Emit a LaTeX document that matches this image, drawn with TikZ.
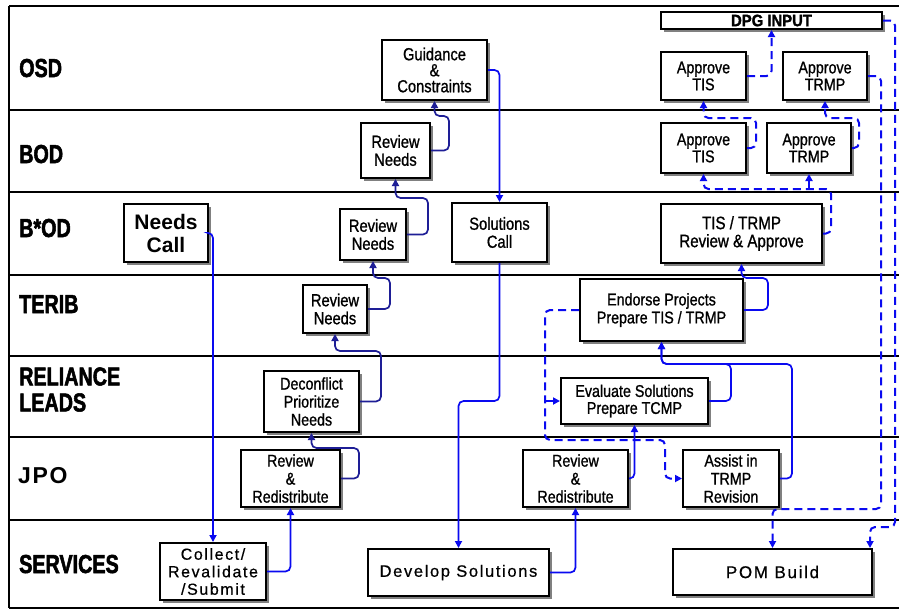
\documentclass[tikz,border=0pt]{standalone}
\usepackage{fontspec}
\setmainfont{Liberation Sans}
\newfontfamily\boxfont[FakeStretch=0.84,FakeBold=1]{Liberation Sans}
\newfontfamily\lanefont[FakeStretch=0.76,FakeBold=2]{Liberation Sans}
\newfontfamily\dpgfont[FakeStretch=0.9,FakeBold=1.5]{Liberation Sans}
\newfontfamily\widefont[LetterSpace=10,FakeBold=0.6]{Liberation Sans}
\newfontfamily\jpofont[LetterSpace=7]{Liberation Sans}
\usetikzlibrary{arrows.meta,calc,shadows}
\definecolor{lblue}{RGB}{10,10,240}
\definecolor{navy}{RGB}{30,30,150}
\begin{document}
\begin{tikzpicture}[x=1pt,y=-1pt,
  box/.style={draw=black, line width=2pt, fill=white, inner sep=0pt, align=center,
    font=\boxfont\fontsize{17}{17}\selectfont,
    drop shadow={shadow xshift=2.5pt, shadow yshift=-2.5pt, fill=black!50, opacity=1}},
  lab/.style={anchor=base west, inner sep=0pt, font=\lanefont\bfseries\fontsize{26}{26}\selectfont, align=left},
  lane/.style={draw=black, line width=2pt},
  conn/.style={draw=lblue, line width=1.7pt, rounded corners=5pt, -{Triangle[length=7pt,width=7pt]}},
  nconn/.style={conn, draw=navy},
  dconn/.style={conn, dash pattern=on 8pt off 5pt, line width=2pt},
]
\useasboundingbox (0,0) rectangle (899,611);
\fill[white] (0,0) rectangle (899,611);
% lanes
\draw[lane] (9,6) -- (899,6);
\draw[lane] (9,110) -- (899,110);
\draw[lane] (9,192) -- (899,192);
\draw[lane] (9,275) -- (899,275);
\draw[lane] (9,356) -- (899,356);
\draw[lane] (9,437) -- (899,437);
\draw[lane] (9,520) -- (899,520);
\draw[lane] (9,608) -- (899,608);
\draw[lane] (9,6) -- (9,608);
% lane labels
\node[lab] (lOSD) at (19,77) {OSD};
\node[lab] (lBOD) at (19,163) {BOD};
\node[lab] (lBsOD) at (19,237) {B*OD};
\node[lab] (lTERIB) at (19,313) {TERIB};
\node[lab, anchor=west] (lREL) at (19,389.5) {RELIANCE\\LEADS};
\node[lab, font=\jpofont\bfseries\fontsize{23}{23}\selectfont] (lJPO) at (18,483) {JPO};
\node[lab] (lSERV) at (19,573) {SERVICES};
% boxes
\node[box, minimum width=221pt, minimum height=17pt, font=\dpgfont\bfseries\fontsize{16.5}{16.5}\selectfont] (dpg) at (771.5,20.5) {DPG INPUT};
\node[box, minimum width=85pt, minimum height=48pt] (atis1) at (703.5,76) {Approve\\TIS};
\node[box, minimum width=84pt, minimum height=48pt] (atrmp1) at (825,76) {Approve\\TRMP};
\node[box, minimum width=85pt, minimum height=50pt] (atis2) at (703.5,148) {Approve\\TIS};
\node[box, minimum width=84pt, minimum height=50pt] (atrmp2) at (809,148) {Approve\\TRMP};
\node[box, minimum width=161pt, minimum height=59pt, font=\boxfont\fontsize{18}{18}\selectfont] (tisrev) at (741.5,233.5) {TIS / TRMP\\Review \& Approve};
\node[box, minimum width=105pt, minimum height=60pt, font=\boxfont\fontsize{17.5}{16}\selectfont] (guid) at (434.5,70) {Guidance\\\&\\Constraints};
\node[box, minimum width=69pt, minimum height=55pt, font=\boxfont\fontsize{17.5}{18}\selectfont] (rn1) at (395.5,150.5) {Review\\Needs};
\node[box, minimum width=66pt, minimum height=51pt, font=\boxfont\fontsize{17.5}{18}\selectfont] (rn2) at (373,234.5) {Review\\Needs};
\node[box, minimum width=95pt, minimum height=59pt, font=\boxfont\fontsize{17.5}{18}\selectfont] (solc) at (499.5,232.5) {Solutions\\Call};
\node[box, minimum width=64pt, minimum height=48pt, font=\boxfont\fontsize{17.5}{18}\selectfont] (rn3) at (335,309) {Review\\Needs};
\node[box, minimum width=84pt, minimum height=58pt, font=\bfseries\fontsize{21}{23}\selectfont] (needs) at (166,233) {Needs\\Call};
\node[box, minimum width=95pt, minimum height=61pt, font=\boxfont\fontsize{17}{18}\selectfont] (decon) at (311.5,401.5) {Deconflict\\Prioritize\\Needs};
\node[box, minimum width=99pt, minimum height=57pt, font=\boxfont\fontsize{17}{18}\selectfont] (rr1) at (290.5,478.5) {Review\\\&\\Redistribute};
\node[box, minimum width=106pt, minimum height=57pt, font=\widefont\fontsize{16}{17.5}\selectfont] (collect) at (213,571.5) {Collect/\\Revalidate\\/Submit};
\node[box, minimum width=181pt, minimum height=47pt, font=\widefont\fontsize{16.5}{17}\selectfont] (devsol) at (458.5,572.5) {Develop Solutions};
\node[box, minimum width=105pt, minimum height=57pt, font=\boxfont\fontsize{17}{18}\selectfont] (rr2) at (575.5,478.5) {Review\\\&\\Redistribute};
\node[box, minimum width=147pt, minimum height=46pt, font=\boxfont\fontsize{17}{17}\selectfont] (evals) at (634.5,401) {Evaluate Solutions\\Prepare TCMP};
\node[box, minimum width=163pt, minimum height=62pt, font=\boxfont\fontsize{17}{18}\selectfont] (endorse) at (661.5,310) {Endorse Projects\\Prepare TIS / TRMP};
\node[box, minimum width=96pt, minimum height=57pt, font=\boxfont\fontsize{17}{18}\selectfont] (assist) at (731,478.5) {Assist in\\TRMP\\Revision};
\node[box, minimum width=199pt, minimum height=46pt, font=\widefont\fontsize{17}{17}\selectfont] (pom) at (772.5,572) {POM Build};
% solid connectors
\draw[conn] (needs.east) -| (collect.north);
\draw[conn] (collect.east) -| (rr1.south);
\draw[nconn] (rr1.east) -- ++(18,0) |- ($(decon.south)+(0,15)$) -- (decon.south);
\draw[nconn] (decon.east) -- ++(21,0) |- ($(rn3.south)+(0,17)$) -- (rn3.south);
\draw[nconn] (rn3.east) -- ++(22,0) |- ($(rn2.south)+(0,17)$) -- (rn2.south);
\draw[nconn] (rn2.east) -- ++(21,0) |- ($(rn1.south)+(0,19)$) -- (rn1.south);
\draw[nconn] (rn1.east) -- ++(18,0) |- ($(guid.south)+(0,15)$) -- (guid.south);
\draw[conn] (guid.east) -| (solc.north);
\draw[conn] (solc.south) -- ++(0,138) -| (devsol.north);
\draw[conn] (devsol.east) -| (rr2.south);
\draw[conn] (rr2.east) -| (evals.south);
\draw[conn] (evals.east) -- ++(22,0) |- ($(endorse.south)+(0,22)$) -- (endorse.south);
\draw[conn] (assist.east) -- ++(12,0) |- ($(endorse.south)+(0,22)$) -- (endorse.south);
\draw[conn] (endorse.east) -- ++(24,0) |- ($(tisrev.south)+(0,14)$) -- (tisrev.south);
\draw[conn] ($(evals.west)+(-15,0)$) -- (evals.west);
% dashed connectors
\draw[dconn] (endorse.west) -- ++(-34,0) -- ++(0,130) -| ($(assist.west)+(-17,0)$) -- (assist.west);
\draw[dconn] (tisrev.east) -- ++(8,0) |- ($(atis2.south)+(0,15)$) -- (atis2.south);
\draw[dconn] ($(atrmp2.south)+(0,15)$) -- (atrmp2.south);
\draw[dconn] (atis2.east) -- ++(9,0) |- ($(atis1.south)+(0,17)$) -- (atis1.south);
\draw[dconn] (atrmp2.east) -- ++(7,0) |- ($(atrmp1.south)+(0,17)$) -- (atrmp1.south);
\draw[dconn] (atis1.east) -| (dpg.south);
\draw[dconn] (atrmp1.east) -| ($(pom.north)+(108.5,-39)$) -| (pom.north);
\draw[dconn] (dpg.east) -| ($(pom.north east)+(22,-21)$) -| ($(pom.north east)+(-3,0)$);
\end{tikzpicture}
\end{document}
